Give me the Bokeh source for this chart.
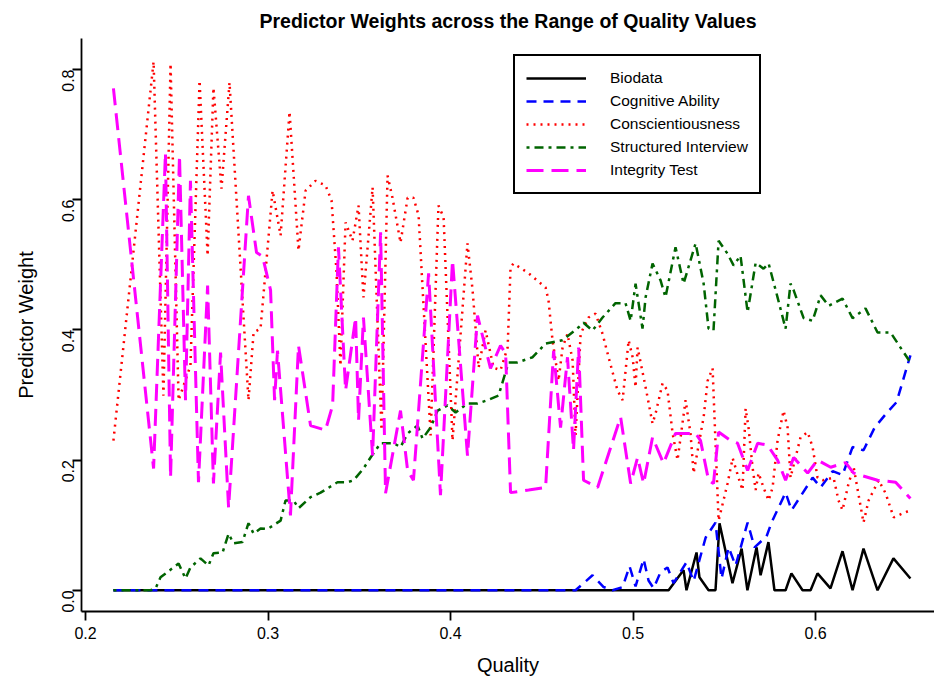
import math
from bokeh.plotting import figure
from bokeh.models import Legend, LegendItem, FixedTicker, NumeralTickFormatter, Range1d
from bokeh.embed import file_html
from bokeh.resources import INLINE

# ---- data ----
bio_q = [0.2153, 0.5195, 0.5277, 0.5293, 0.5348, 0.5364, 0.5414, 0.5452, 0.5474, 0.5545,
         0.5595, 0.5627, 0.5677, 0.5699, 0.5742, 0.5775, 0.5836, 0.5868, 0.5929, 0.5973,
         0.6011, 0.6082, 0.6148, 0.6203, 0.6263, 0.6340, 0.6427, 0.6520]
bio_w = [0, 0, 0.031, 0, 0.058, 0.020, 0, 0, 0.103, 0.011,
         0.064, 0, 0.066, 0.023, 0.074, 0, 0, 0.026, 0, 0,
         0.026, 0.003, 0.060, 0, 0.064, 0, 0.049, 0.018]

cog_q = [0.2153, 0.4685, 0.4778, 0.4839, 0.4888, 0.4943, 0.4981, 0.5014, 0.5058, 0.5085,
         0.5113, 0.5151, 0.5189, 0.5222, 0.5293, 0.5332, 0.5398, 0.5452, 0.5485, 0.5524,
         0.5562, 0.5628, 0.5666, 0.5732, 0.5759, 0.5836, 0.5869, 0.5984, 0.6028, 0.6094,
         0.6148, 0.6203, 0.6263, 0.6324, 0.6389, 0.6444, 0.6520]
cog_w = [0, 0, 0.023, 0.005, 0, 0.005, 0.037, 0.006, 0.048, 0.015,
         0.003, 0.028, 0.035, 0.011, 0.043, 0.014, 0.081, 0.104, 0.018, 0.066,
         0.038, 0.104, 0.066, 0.083, 0.104, 0.150, 0.123, 0.173, 0.158, 0.183,
         0.177, 0.220, 0.215, 0.250, 0.272, 0.289, 0.361]

con_q = [0.2153, 0.2373, 0.2427, 0.2466, 0.2510, 0.2575, 0.2625, 0.2669, 0.2701, 0.2745,
         0.2789, 0.2893, 0.2921, 0.2959, 0.3025, 0.3069, 0.3118, 0.3167, 0.3206, 0.3260,
         0.3315, 0.3348, 0.3375, 0.3397, 0.3425, 0.3463, 0.3496, 0.3523, 0.3573, 0.3622,
         0.3655, 0.3682, 0.3726, 0.3765, 0.3797, 0.3825, 0.3891, 0.3934, 0.3962, 0.3984,
         0.4011, 0.4093, 0.4121, 0.4154, 0.4192, 0.4236, 0.4274, 0.4313, 0.4329, 0.4345,
         0.4428, 0.4521, 0.4537, 0.4559, 0.4592, 0.4614, 0.4641, 0.4669, 0.4685, 0.4713,
         0.4756, 0.4795, 0.4833, 0.4866, 0.4915, 0.4943, 0.4976, 0.4998, 0.5014, 0.5025,
         0.5069, 0.5107, 0.5124, 0.5162, 0.5189, 0.5217, 0.5244, 0.5288, 0.5315, 0.5332,
         0.5387, 0.5409, 0.5436, 0.5469, 0.5518, 0.5546, 0.5578, 0.5600, 0.5617, 0.5633,
         0.5655, 0.5672, 0.5688, 0.5715, 0.5743, 0.5765, 0.5792, 0.5825, 0.5847, 0.5863,
         0.5918, 0.5957, 0.5984, 0.6011, 0.6039, 0.6099, 0.6126, 0.6148, 0.6181, 0.6209,
         0.6263, 0.6291, 0.6346, 0.6384, 0.6428, 0.6477, 0.6520]
con_w = [0.230, 0.812, 0.299, 0.809, 0.292, 0.345, 0.783, 0.514, 0.772, 0.617,
         0.780, 0.292, 0.396, 0.402, 0.614, 0.545, 0.735, 0.522, 0.614, 0.629,
         0.622, 0.599, 0.491, 0.345, 0.565, 0.537, 0.591, 0.450, 0.619, 0.246,
         0.637, 0.603, 0.534, 0.603, 0.603, 0.576, 0.238, 0.591, 0.573, 0.419,
         0.230, 0.533, 0.461, 0.342, 0.399, 0.342, 0.338, 0.373, 0.496, 0.502,
         0.487, 0.465, 0.445, 0.384, 0.322, 0.373, 0.394, 0.353, 0.238, 0.394,
         0.419, 0.425, 0.394, 0.358, 0.307, 0.292, 0.384, 0.358, 0.312, 0.373,
         0.312, 0.256, 0.272, 0.318, 0.307, 0.241, 0.200, 0.292, 0.241, 0.180,
         0.266, 0.322, 0.341, 0.107, 0.164, 0.203, 0.173, 0.154, 0.279, 0.250,
         0.189, 0.154, 0.180, 0.158, 0.138, 0.158, 0.230, 0.276, 0.250, 0.173,
         0.235, 0.243, 0.220, 0.173, 0.169, 0.173, 0.138, 0.123, 0.164, 0.189,
         0.104, 0.138, 0.169, 0.149, 0.112, 0.118, 0.123]

str_q = [0.2153, 0.2356, 0.2384, 0.2411, 0.2510, 0.2548, 0.2575, 0.2630, 0.2674, 0.2701,
         0.2751, 0.2784, 0.2811, 0.2860, 0.2893, 0.2921, 0.2959, 0.2997, 0.3069, 0.3096,
         0.3140, 0.3167, 0.3233, 0.3288, 0.3381, 0.3436, 0.3469, 0.3523, 0.3562, 0.3617,
         0.3688, 0.3726, 0.3765, 0.3819, 0.3847, 0.3891, 0.3929, 0.3984, 0.4028, 0.4093,
         0.4148, 0.4203, 0.4263, 0.4318, 0.4367, 0.4450, 0.4521, 0.4614, 0.4702, 0.4729,
         0.4778, 0.4833, 0.4904, 0.4959, 0.4987, 0.5014, 0.5052, 0.5069, 0.5107, 0.5151,
         0.5178, 0.5233, 0.5277, 0.5343, 0.5387, 0.5414, 0.5441, 0.5469, 0.5518, 0.5551,
         0.5589, 0.5628, 0.5672, 0.5715, 0.5743, 0.5792, 0.5836, 0.5863, 0.5880, 0.5935,
         0.5984, 0.6028, 0.6072, 0.6148, 0.6203, 0.6274, 0.6340, 0.6411, 0.6520]
str_w = [0, 0, 0.003, 0.020, 0.041, 0.018, 0.035, 0.049, 0.038, 0.057,
         0.058, 0.087, 0.072, 0.074, 0.103, 0.087, 0.095, 0.094, 0.107, 0.138,
         0.138, 0.126, 0.143, 0.150, 0.166, 0.166, 0.169, 0.187, 0.204, 0.226,
         0.226, 0.220, 0.241, 0.253, 0.233, 0.250, 0.276, 0.284, 0.273, 0.287,
         0.287, 0.292, 0.299, 0.350, 0.350, 0.358, 0.379, 0.384, 0.404, 0.411,
         0.399, 0.419, 0.441, 0.441, 0.414, 0.471, 0.402, 0.450, 0.502, 0.476,
         0.450, 0.527, 0.471, 0.533, 0.471, 0.402, 0.399, 0.537, 0.517, 0.499,
         0.514, 0.427, 0.503, 0.494, 0.502, 0.450, 0.402, 0.471, 0.461, 0.418,
         0.414, 0.453, 0.437, 0.448, 0.418, 0.433, 0.396, 0.396, 0.350]

int_q = [0.2153, 0.2373, 0.2438, 0.2466, 0.2515, 0.2548, 0.2575, 0.2619, 0.2669, 0.2701,
         0.2740, 0.2784, 0.2893, 0.2937, 0.2970, 0.3014, 0.3036, 0.3052, 0.3123, 0.3167,
         0.3233, 0.3315, 0.3354, 0.3386, 0.3425, 0.3480, 0.3496, 0.3523, 0.3573, 0.3617,
         0.3644, 0.3726, 0.3765, 0.3797, 0.3880, 0.3945, 0.4011, 0.4093, 0.4148, 0.4219,
         0.4274, 0.4302, 0.4329, 0.4428, 0.4521, 0.4565, 0.4603, 0.4641, 0.4674, 0.4702,
         0.4729, 0.4806, 0.4932, 0.4987, 0.5025, 0.5058, 0.5107, 0.5167, 0.5233, 0.5277,
         0.5343, 0.5370, 0.5414, 0.5441, 0.5469, 0.5535, 0.5573, 0.5628, 0.5683, 0.5737,
         0.5792, 0.5836, 0.5880, 0.5957, 0.6011, 0.6083, 0.6165, 0.6209, 0.6340, 0.6439,
         0.6520]
int_w = [0.771, 0.187, 0.672, 0.173, 0.668, 0.292, 0.629, 0.166, 0.468, 0.164,
         0.365, 0.127, 0.606, 0.519, 0.513, 0.461, 0.292, 0.368, 0.115, 0.376,
         0.253, 0.246, 0.284, 0.527, 0.307, 0.419, 0.261, 0.419, 0.207, 0.550,
         0.149, 0.276, 0.184, 0.169, 0.487, 0.146, 0.507, 0.207, 0.422, 0.341,
         0.376, 0.364, 0.150, 0.154, 0.158, 0.368, 0.250, 0.358, 0.215, 0.373,
         0.169, 0.158, 0.266, 0.164, 0.204, 0.164, 0.235, 0.195, 0.241, 0.241,
         0.241, 0.230, 0.169, 0.164, 0.243, 0.230, 0.226, 0.184, 0.226, 0.223,
         0.200, 0.169, 0.204, 0.180, 0.200, 0.189, 0.196, 0.180, 0.169, 0.166,
         0.141]

series_names = ["Biodata", "Cognitive Ability", "Conscientiousness",
                "Structured Interview", "Integrity Test"]
x_ticks = [0.2, 0.3, 0.4, 0.5, 0.6]
y_ticks = [0.0, 0.2, 0.4, 0.6, 0.8]

FONT = "Liberation Sans"

p = figure(width=934, height=685, output_backend="svg", toolbar_location=None,
           x_range=Range1d(0.1978, 0.6652), y_range=Range1d(-0.0326, 0.8476),
           min_border_left=81, min_border_right=0, min_border_top=38, min_border_bottom=74)

p.title.text = "Predictor Weights across the Range of Quality Values"
p.title.align = "center"
p.title.text_font = FONT
p.title.text_font_size = "19.5px"
p.title.text_font_style = "bold"
p.title.text_color = "black"
p.title.standoff = 14

p.xgrid.visible = False
p.ygrid.visible = False
p.outline_line_color = None
p.background_fill_color = "white"
p.border_fill_color = "white"

for ax in (p.xaxis[0], p.yaxis[0]):
    ax.axis_line_color = "black"
    ax.axis_line_width = 1.8
    ax.major_tick_line_color = "black"
    ax.major_tick_line_width = 1.8
    ax.major_tick_in = 0
    ax.major_tick_out = 9
    ax.minor_tick_line_color = None
    ax.major_label_text_font = FONT
    ax.major_label_text_font_size = "16px"
    ax.major_label_text_color = "black"
    ax.axis_label_text_font = FONT
    ax.axis_label_text_font_size = "20px"
    ax.axis_label_text_font_style = "normal"
    ax.axis_label_text_color = "black"
    ax.formatter = NumeralTickFormatter(format="0.0")

p.xaxis.ticker = FixedTicker(ticks=x_ticks)
p.yaxis.ticker = FixedTicker(ticks=y_ticks)
p.xaxis.axis_label = "Quality"
p.yaxis.axis_label = "Predictor Weight"
p.yaxis.major_label_orientation = math.pi / 2
p.xaxis.major_label_standoff = 6
p.yaxis.major_label_standoff = 4
p.xaxis.axis_label_standoff = 12
p.yaxis.axis_label_standoff = 17

r_bio = p.line(bio_q, bio_w, line_color="black", line_width=2.5)
r_cog = p.line(cog_q, cog_w, line_color="#0000FF", line_width=2.5, line_dash="10 7")
r_con = p.line(con_q, con_w, line_color="#FF0000", line_width=2.5, line_dash="2 5")
r_str = p.line(str_q, str_w, line_color="#006400", line_width=2.5, line_dash="3 5 9 5")
r_int = p.line(int_q, int_w, line_color="#FF00FF", line_width=3, line_dash="17 8")

legend = Legend(items=[LegendItem(label=n, renderers=[r]) for n, r in
                       zip(series_names, [r_bio, r_cog, r_con, r_str, r_int])],
                location=(432, 417))
legend.label_text_font = FONT
legend.label_text_font_size = "15.5px"
legend.label_text_color = "black"
legend.label_height = 22
legend.glyph_height = 22
legend.glyph_width = 60
legend.label_standoff = 24
legend.spacing = 1
legend.padding = 11
legend.margin = 0
legend.border_line_color = "black"
legend.border_line_alpha = 1
legend.border_line_width = 2
legend.background_fill_color = "white"
legend.background_fill_alpha = 1
p.add_layout(legend, "center")

open("out.html", "w").write(file_html(p, INLINE))
